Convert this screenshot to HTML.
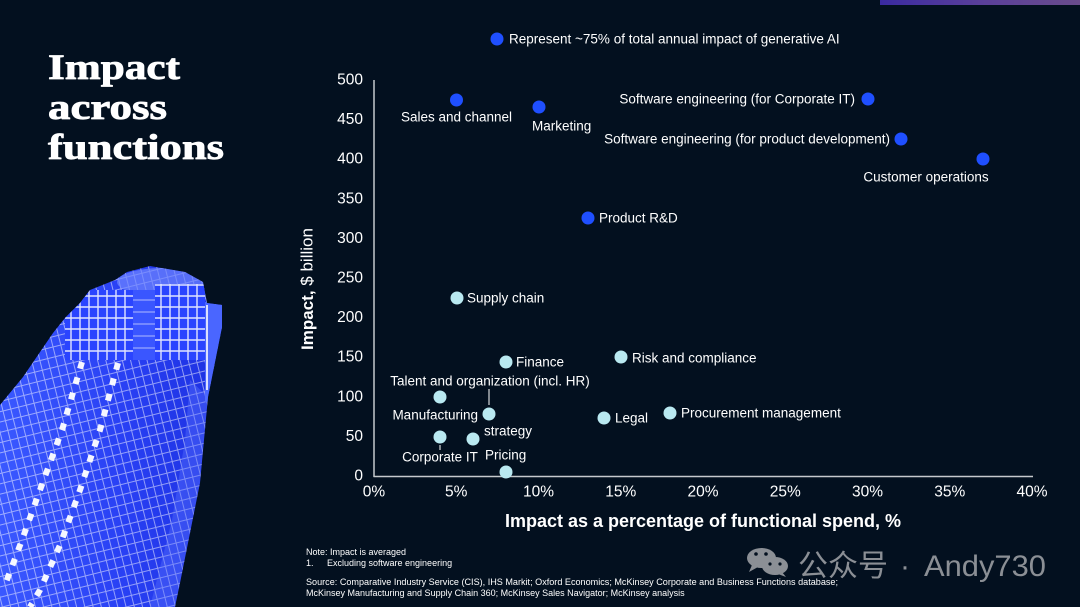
<!DOCTYPE html>
<html><head><meta charset="utf-8">
<style>
html,body{margin:0;padding:0;background:#03101f;width:1080px;height:607px;overflow:hidden;}
body{position:relative;}
svg{display:block;position:absolute;left:0;top:0;}
</style></head>
<body>
<svg width="1080" height="607" viewBox="0 0 1080 607" xmlns="http://www.w3.org/2000/svg">
<defs>
  <linearGradient id="strip" x1="0" y1="0" x2="1" y2="0">
    <stop offset="0" stop-color="#3a2aa0"/>
    <stop offset="0.5" stop-color="#5a3f9a"/>
    <stop offset="1" stop-color="#6a4c8c"/>
  </linearGradient>
  <linearGradient id="bld" x1="0" y1="0" x2="1" y2="0">
    <stop offset="0" stop-color="#3a58ff"/>
    <stop offset="0.55" stop-color="#2940f4"/>
    <stop offset="1" stop-color="#1c30e0"/>
  </linearGradient>
  <clipPath id="bclip">
    <path d="M0,405 L23,377 L53,333 L65,318 L80,303 L90,290 L115,280 L127,272 L150,266 L185,272 L203,282 L207,303 L222,305 L222,327 L208,397 L200,483 L180,583 L175,607 L0,607 Z"/>
  </clipPath>
  <pattern id="win" x="0" y="0" width="8" height="10" patternUnits="userSpaceOnUse" patternTransform="rotate(-14)">
    <path d="M0,9.5 H8 M7.5,0 V10" stroke="#ffffff" stroke-opacity="0.5" stroke-width="1"/>
  </pattern>
  <pattern id="crown" x="0" y="0" width="9" height="11" patternUnits="userSpaceOnUse">
    <path d="M0,10 H9 M8,0 V11" stroke="#ffffff" stroke-opacity="0.85" stroke-width="1.4"/>
  </pattern>
</defs>

<rect width="1080" height="607" fill="#03101f"/>
<rect x="880" y="0" width="200" height="5" fill="url(#strip)"/>

<!-- Building -->
<g clip-path="url(#bclip)">
  <rect x="0" y="262" width="224" height="345" fill="url(#bld)"/>
  <rect x="0" y="262" width="224" height="345" fill="url(#win)"/>
  <ellipse cx="162" cy="282" rx="45" ry="14" fill="#6f86ff" opacity="0.7"/>
  <rect x="65" y="290" width="68" height="70" fill="#2a44ff"/>
  <rect x="65" y="290" width="68" height="70" fill="url(#crown)"/>
  <rect x="155" y="284" width="50" height="76" fill="#2a44ff"/>
  <rect x="155" y="284" width="50" height="76" fill="url(#crown)"/>
  <rect x="133" y="290" width="22" height="70" fill="#3a56ff"/>
  <g stroke="#ffffff" stroke-width="1" opacity="0.6">
    <line x1="133" y1="300" x2="155" y2="300"/><line x1="133" y1="312" x2="155" y2="312"/>
    <line x1="133" y1="324" x2="155" y2="324"/><line x1="133" y1="336" x2="155" y2="336"/>
    <line x1="133" y1="348" x2="155" y2="348"/>
  </g>
  <rect x="205" y="302" width="18" height="100" fill="#4a66ff"/>
  <line x1="207" y1="305" x2="207" y2="390" stroke="#ffffff" stroke-width="2" opacity="0.8"/>
  <g stroke="#ffffff" stroke-width="6" stroke-opacity="0.95" fill="none">
    <path d="M82,362 L62,430 L40,490 L22,540 L5,585" stroke-dasharray="7 9"/>
    <path d="M118,363 L100,430 L80,490 L60,545 L40,590 L30,607" stroke-dasharray="7 9"/>
  </g>
  <path d="M190,380 L208,397 L200,483 L180,583 L175,607 L150,607 L172,520 L185,440 Z" fill="#5a74ff" opacity="0.4"/>
</g>

<!-- Title -->
<g font-family="'Liberation Serif',serif" font-weight="bold" font-size="36" fill="#ffffff" stroke="#ffffff" stroke-width="0.8" stroke-linejoin="round">
  <text x="48" y="79" textLength="132" lengthAdjust="spacingAndGlyphs">Impact</text>
  <text x="48" y="119" textLength="119" lengthAdjust="spacingAndGlyphs">across</text>
  <text x="48" y="159" textLength="176" lengthAdjust="spacingAndGlyphs">functions</text>
</g>

<!-- Legend -->
<circle cx="497" cy="39" r="6.5" fill="#1f4fff"/>
<text x="509" y="39" dominant-baseline="central" font-family="'Liberation Sans',Arial,sans-serif" font-size="13.5" fill="#ffffff">Represent ~75% of total annual impact of generative AI</text>

<!-- Axes -->
<line x1="374" y1="80" x2="374" y2="477" stroke="#c5c9cd" stroke-width="1.5"/>
<line x1="373.5" y1="476.5" x2="1033" y2="476.5" stroke="#c5c9cd" stroke-width="1.5"/>

<g font-family="'Liberation Sans',Arial,sans-serif" font-size="15.5" fill="#ffffff" dominant-baseline="central">
  <g text-anchor="end">
    <text x="363" y="80">500</text>
    <text x="363" y="119.6">450</text>
    <text x="363" y="159.2">400</text>
    <text x="363" y="198.8">350</text>
    <text x="363" y="238.4">300</text>
    <text x="363" y="278">250</text>
    <text x="363" y="317.6">200</text>
    <text x="363" y="357.2">150</text>
    <text x="363" y="396.8">100</text>
    <text x="363" y="436.4">50</text>
    <text x="363" y="476">0</text>
  </g>
  <g text-anchor="middle">
    <text x="374" y="492">0%</text>
    <text x="456.25" y="492">5%</text>
    <text x="538.5" y="492">10%</text>
    <text x="620.75" y="492">15%</text>
    <text x="703" y="492">20%</text>
    <text x="785.25" y="492">25%</text>
    <text x="867.5" y="492">30%</text>
    <text x="949.75" y="492">35%</text>
    <text x="1032" y="492">40%</text>
  </g>
</g>

<text x="703" y="521" text-anchor="middle" dominant-baseline="central" font-family="'Liberation Sans',Arial,sans-serif" font-weight="bold" font-size="18" fill="#ffffff">Impact as a percentage of functional spend, %</text>
<text transform="translate(307,289) rotate(-90)" text-anchor="middle" dominant-baseline="central" font-family="'Liberation Sans',Arial,sans-serif" font-size="17" fill="#ffffff"><tspan font-weight="bold">Impact,</tspan> $ billion</text>

<!-- Points: dark blue -->
<g fill="#1f4fff">
  <circle cx="456.5" cy="100" r="6.5"/>
  <circle cx="539" cy="107" r="6.5"/>
  <circle cx="868" cy="99" r="6.5"/>
  <circle cx="901" cy="139" r="6.5"/>
  <circle cx="983" cy="159" r="6.5"/>
  <circle cx="588" cy="218" r="6.5"/>
</g>
<!-- Points: light cyan -->
<g fill="#b9e9f1">
  <circle cx="457" cy="298" r="6.5"/>
  <circle cx="506" cy="362" r="6.5"/>
  <circle cx="621" cy="357" r="6.5"/>
  <circle cx="440" cy="397" r="6.5"/>
  <circle cx="489" cy="414" r="6.5"/>
  <circle cx="440" cy="437" r="6.5"/>
  <circle cx="473" cy="439" r="6.5"/>
  <circle cx="506" cy="472" r="6.5"/>
  <circle cx="604" cy="418" r="6.5"/>
  <circle cx="670" cy="413" r="6.5"/>
</g>
<line x1="489" y1="389" x2="489" y2="405" stroke="#ffffff" stroke-width="1"/>
<line x1="440" y1="445" x2="440" y2="450" stroke="#ffffff" stroke-width="1"/>

<g font-family="'Liberation Sans',Arial,sans-serif" font-size="13.5" fill="#ffffff" dominant-baseline="central">
  <text x="456.5" y="117" text-anchor="middle">Sales and channel</text>
  <text x="532" y="126">Marketing</text>
  <text x="855" y="99" text-anchor="end">Software engineering (for Corporate IT)</text>
  <text x="890" y="139" text-anchor="end">Software engineering (for product development)</text>
  <text x="926" y="177" text-anchor="middle">Customer operations</text>
  <text x="599" y="218">Product R&amp;D</text>
  <text x="467" y="298">Supply chain</text>
  <text x="516" y="362">Finance</text>
  <text x="632" y="358">Risk and compliance</text>
  <text x="490" y="381" text-anchor="middle">Talent and organization (incl. HR)</text>
  <text x="478" y="415" text-anchor="end">Manufacturing</text>
  <text x="440" y="457" text-anchor="middle">Corporate IT</text>
  <text x="484" y="431">strategy</text>
  <text x="485" y="455">Pricing</text>
  <text x="615" y="418">Legal</text>
  <text x="681" y="413">Procurement management</text>
</g>

<!-- Footnotes -->
<g font-family="'Liberation Sans',Arial,sans-serif" font-size="9" fill="#ffffff">
  <text x="306" y="555">Note: Impact is averaged</text>
  <text x="306" y="566">1.</text>
  <text x="327" y="566">Excluding software engineering</text>
  <text x="306" y="585" textLength="532" lengthAdjust="spacingAndGlyphs">Source: Comparative Industry Service (CIS), IHS Markit; Oxford Economics; McKinsey Corporate and Business Functions database;</text>
  <text x="306" y="596">McKinsey Manufacturing and Supply Chain 360; McKinsey Sales Navigator; McKinsey analysis</text>
</g>

<!-- Watermark -->
<g fill="#8b8f95">
  <ellipse cx="761.5" cy="558" rx="14.5" ry="10"/>
  <path d="M752,565 L749,572 L758,567 Z"/>
  <ellipse cx="775" cy="566" rx="13" ry="9"/>
  <path d="M782,572 L786,577 L778,574 Z"/>
</g>
<g fill="#03101f">
  <circle cx="756" cy="554" r="1.8"/><circle cx="766" cy="554" r="1.8"/>
  <circle cx="770" cy="564" r="1.6"/><circle cx="780" cy="564" r="1.6"/>
</g>
<g font-family="'Liberation Sans','Noto Sans CJK SC',sans-serif" font-size="30" fill="#8b8f95">
  <text x="798" y="576" textLength="90" lengthAdjust="spacingAndGlyphs">公众号</text>
  <text x="905" y="576" text-anchor="middle">·</text>
  <text x="924" y="576" textLength="122" lengthAdjust="spacingAndGlyphs">Andy730</text>
</g>
</svg>
</body></html>
